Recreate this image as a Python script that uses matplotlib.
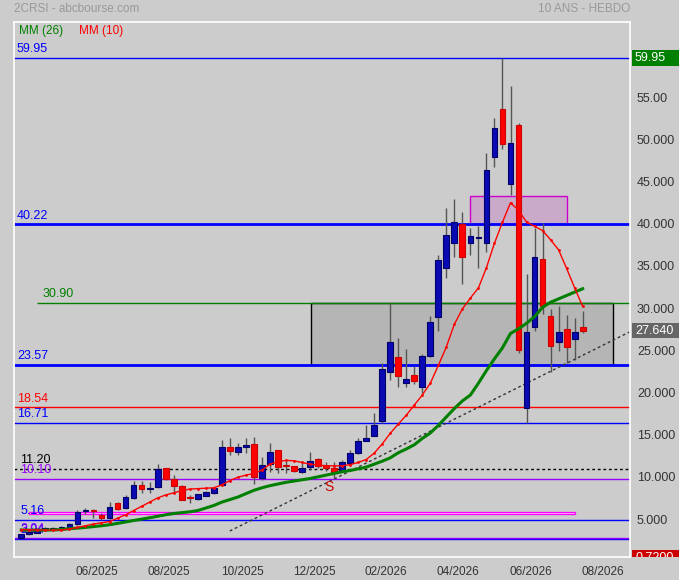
import matplotlib
matplotlib.use("Agg")
import matplotlib.pyplot as plt
from matplotlib.patches import Rectangle
from matplotlib.transforms import ScaledTranslation, Bbox, TransformedBbox
import numpy as np

plt.rcParams['font.family'] = ['Liberation Sans', 'DejaVu Sans']

# weekly candles, 2CRSI
opens = [3.08, 3.55, 3.68, 4.10, 4.15, 4.20, 4.20, 4.74, 6.20, 6.25,
         5.77, 5.38, 7.16, 6.57, 7.75, 9.33, 8.89, 9.13, 11.31, 10.00,
         9.21, 7.90, 7.67, 8.06, 8.42, 9.33, 13.80, 13.21, 13.80, 14.19,
         10.20, 11.79, 13.48, 11.70, 11.55, 10.91, 11.43, 12.38, 11.58, 11.38,
         11.11, 11.98, 13.09, 14.58, 15.18, 16.96, 22.77, 24.47, 21.39, 22.34,
         20.92, 24.66, 29.29, 35.03, 37.99, 40.24, 37.99, 38.60, 37.99, 48.19,
         53.91, 44.98, 51.98, 18.50, 28.10, 36.13, 29.33, 26.25, 27.83, 26.61,
         28.03]
closes = [3.49, 3.70, 4.11, 4.12, 4.22, 4.25, 4.67, 6.09, 6.28, 6.20,
          5.38, 6.76, 6.49, 7.87, 9.30, 8.82, 9.01, 11.19, 10.04, 9.25,
          7.55, 7.82, 8.26, 8.54, 9.01, 13.80, 13.40, 13.80, 14.07, 10.24,
          11.70, 13.21, 11.43, 11.58, 10.99, 11.38, 12.21, 11.58, 11.31, 10.91,
          12.09, 13.09, 14.51, 14.87, 16.41, 23.05, 26.25, 22.29, 21.86, 21.70,
          24.59, 28.62, 35.99, 38.97, 40.48, 36.33, 38.82, 38.70, 46.68, 51.62,
          49.73, 49.85, 25.34, 27.44, 36.33, 30.59, 25.85, 27.51, 25.73, 27.51,
          27.64]
highs = [3.55, 3.80, 4.20, 4.30, 4.40, 4.45, 4.85, 6.37, 6.60, 6.50,
         6.00, 7.35, 7.30, 8.20, 9.84, 9.81, 9.70, 11.82, 11.40, 10.52,
         9.30, 8.15, 8.30, 8.60, 9.10, 14.67, 14.87, 14.35, 14.87, 14.99,
         12.69, 14.27, 13.50, 12.30, 11.60, 12.20, 13.28, 12.50, 12.10, 12.00,
         12.30, 13.48, 14.90, 16.45, 17.83, 23.76, 30.88, 26.72, 25.46, 23.44,
         24.86, 29.41, 36.60, 42.14, 43.21, 41.66, 39.77, 40.04, 48.66, 52.81,
         59.95, 56.64, 52.22, 34.40, 39.77, 40.43, 30.20, 30.55, 29.49, 29.10,
         30.00]
lows = [3.04, 3.45, 3.60, 3.95, 4.00, 4.05, 4.10, 4.60, 5.90, 5.40,
        5.20, 5.30, 6.40, 6.50, 7.70, 8.35, 8.40, 9.00, 9.90, 8.54,
        7.50, 7.16, 7.60, 8.00, 8.30, 9.20, 12.89, 12.90, 13.09, 9.45,
        9.90, 10.90, 10.79, 10.80, 10.90, 10.80, 11.11, 11.40, 11.00, 10.20,
        10.90, 11.60, 13.00, 14.50, 15.10, 16.72, 21.78, 20.92, 20.90, 21.30,
        20.20, 24.50, 27.63, 33.84, 36.40, 33.13, 36.60, 35.03, 36.99, 47.07,
        49.13, 43.72, 25.02, 16.71, 27.63, 29.57, 22.69, 25.26, 23.76, 24.15,
        27.39]

mm10 = [4.05, 4.02, 4.00, 3.98, 3.98, 4.00, 4.10, 4.30, 4.50, 4.70,
        4.85, 5.00, 5.40, 5.80, 6.30, 6.80, 7.30, 7.80, 8.15, 8.40,
        8.65, 8.85, 8.90, 8.95, 9.00, 9.35, 9.85, 10.25, 10.50, 10.70,
        11.10, 11.80, 12.10, 12.25, 12.20, 12.00, 11.80, 11.70, 11.62, 11.60,
        11.60, 11.75, 12.00, 12.35, 13.10, 14.20, 15.45, 16.55, 17.60, 18.80,
        20.00, 21.40, 23.50, 25.70, 28.40, 30.20, 31.50, 32.70, 35.10, 38.00,
        40.50, 42.80, 41.90, 40.50, 40.00, 39.50, 38.40, 37.20, 35.00, 32.70,
        30.50]
mm26 = [4.00, 3.98, 3.97, 3.98, 4.00, 4.05, 4.15, 4.22, 4.30, 4.40,
        4.50, 4.62, 4.78, 4.95, 5.12, 5.28, 5.45, 5.62, 5.80, 5.95,
        6.05, 6.15, 6.30, 6.60, 6.90, 7.30, 7.60, 7.90, 8.30, 8.70,
        9.00, 9.25, 9.45, 9.65, 9.80, 9.95, 10.10, 10.30, 10.50, 10.70,
        10.90, 11.05, 11.25, 11.45, 11.80, 12.15, 12.55, 13.15, 13.60, 14.10,
        14.85, 15.50, 16.40, 17.40, 18.40, 19.30, 20.00, 21.40, 22.90, 24.30,
        25.60, 27.30, 27.85, 28.50, 29.30, 30.40, 31.00, 31.40, 31.80, 32.20,
        32.60]

x_ticks = [9.4, 18.4, 27.6, 36.5, 45.4, 54.4, 63.5, 72.5]
x_labels = ['06/2025', '08/2025', '10/2025', '12/2025',
            '02/2026', '04/2026', '06/2026', '08/2026']
y_ticks = [5, 10, 15, 20, 25, 30, 35, 40, 45, 50, 55]
y_labels = ['5.000', '10.000', '15.000', '20.000', '25.000', '30.000',
            '35.000', '40.000', '45.000', '50.000', '55.00']

# horizontal levels: value, label, colour, width, style, start index, label x
levels = [
    (59.95, '59.95', '#0000ff', 1.0, '-', -0.91, -0.55),
    (40.22, '40.22', '#0000ff', 2.0, '-', -0.91, -0.55),
    (30.90, '30.90', '#008000', 1.0, '-', 1.9, 2.6),
    (23.57, '23.57', '#0000ff', 2.0, '-', -0.91, -0.55),
    (18.54, '18.54', '#ff0000', 1.0, '-', -0.91, -0.55),
    (16.71, '16.71', '#0000ff', 1.0, '-', -0.91, -0.55),
    (11.20, '11.20', '#000000', 1.0, (0, (2, 2)), -0.91, -0.15),
    (10.10, '10.10', '#9900ff', 1.0, '-', -0.91, -0.15),
    (5.16, '5.16', '#0000ff', 1.0, '-', -0.91, -0.15),
    (2.94, '2.94', '#0000ff', 1.0, '-', -0.91, -0.15),
    (3.04, '3.04', '#9900ff', 1.0, '-', -0.91, -0.15),
]

zone_gray = (36.1, 73.8, 23.57, 30.90)
zone_pink = (56.0, 68.1, 40.22, 43.60)
band_pink = (1.0, 69.1, 5.86, 6.09)
trend_x = [26.0, 75.9]
trend_y = [3.88, 27.5]
last_close = 27.64
top_value = 59.95
low_value = 0.72

bg = '#cccccc'
fig = plt.figure(figsize=(6.79, 5.80), dpi=100, facecolor=bg)
ax = fig.add_axes([14 / 679, 1 - 556.7 / 580, 616 / 679, 535 / 580])
ax.set_facecolor(bg)
for s in ax.spines.values():
    s.set_color('white')
    s.set_linewidth(1.2)
ax.set_xlim(-0.91, 75.9)
ax.set_ylim(0.83, 64.26)

# zones
ax.add_patch(Rectangle((zone_gray[0], zone_gray[2]), zone_gray[1] - zone_gray[0],
                       zone_gray[3] - zone_gray[2], facecolor='#b5b5b5',
                       edgecolor='black', lw=1, zorder=1))
ax.add_patch(Rectangle((zone_pink[0], zone_pink[2]), zone_pink[1] - zone_pink[0],
                       zone_pink[3] - zone_pink[2], facecolor='#c9aac9',
                       edgecolor='#cc00cc', lw=1, zorder=1))
ax.add_patch(Rectangle((band_pink[0], band_pink[2]), band_pink[1] - band_pink[0],
                       band_pink[3] - band_pink[2], facecolor='#ffd0ff',
                       edgecolor='#ff00ff', lw=0.9, zorder=2))

for val, txt, col, lw, ls, x0, xl in levels:
    ax.hlines(val, x0, 75.9, colors=col, lw=lw, linestyles=ls, zorder=2)
    ax.annotate(txt, (xl, val), xytext=(0, 2), textcoords='offset points',
                ha='left', va='bottom', color=col, fontsize=9, zorder=3)

ax.plot(trend_x, trend_y, color='#333333', lw=1, ls=(0, (2, 2)), zorder=2)

# candles
idx = np.arange(len(opens))
o = np.array(opens)
c = np.array(closes)
up = c >= o
ax.vlines(idx, lows, highs, color='#555555', lw=1, zorder=3)
body_lo = np.minimum(o, c)
body_h = np.maximum(np.abs(c - o), 0.12)
ax.bar(idx[up], body_h[up], bottom=body_lo[up], width=0.72,
       color='#0a0ab4', edgecolor='#000066', lw=0.8, zorder=4)
ax.bar(idx[~up], body_h[~up], bottom=body_lo[~up], width=0.72,
       color='#ff0000', edgecolor='#cc0000', lw=0.8, zorder=4)

# moving averages
ax.plot(idx, mm26, color='#008000', lw=2.2, zorder=5)
ax.plot(idx, mm10, color='#ff0000', lw=1, marker='.', ms=2, zorder=5)

ax.text(38.4, 9.1, 'S', color='#cc0000', fontsize=10, ha='center', va='center', zorder=6)

# axes ticks
ax.set_xticks(x_ticks)
ax.set_xticklabels(x_labels)
ax.yaxis.tick_right()
ax.set_yticks(y_ticks)
ax.set_yticklabels(y_labels)
ax.tick_params(axis='both', length=0, colors='#333333')
ax.tick_params(axis='x', pad=7, labelsize=8.5)
ax.tick_params(axis='y', pad=5, labelsize=9)
shift = ScaledTranslation(0, 2.5 / 100, fig.dpi_scale_trans)
for lab in ax.get_yticklabels():
    lab.set_transform(lab.get_transform() + shift)

# right side value boxes
ytr = ax.get_yaxis_transform()
box_w = (679 - 632) / 616
clip = TransformedBbox(Bbox([[1.0, 0.0], [1.2, 1.2]]), ax.transAxes)
for val, txt, col in [(top_value, '59.95', '#008000'),
                      (last_close, '27.640', '#666666'),
                      (low_value, '0.7200', '#cc0000')]:
    r = Rectangle((1 + 2 / 616, val - 0.9), box_w, 1.8, transform=ytr,
                  facecolor=col, edgecolor='none', zorder=7)
    ax.add_patch(r)
    r.set_clip_path(None)
    r.set_clip_box(clip)
    r.set_clip_on(True)
    t = ax.text(1 + 5 / 616, val, txt, transform=ytr, color='white',
                fontsize=9, ha='left', va='center', zorder=8)
    t.set_clip_path(None)
    t.set_clip_box(clip)
    t.set_clip_on(True)

fig.text(14 / 679, 1 - 9 / 580, '2CRSI - abcbourse.com', color='#999999',
         fontsize=8.5, va='center', ha='left')
fig.text(630 / 679, 1 - 9 / 580, '10 ANS - HEBDO', color='#999999',
         fontsize=8.5, va='center', ha='right')
fig.text(19 / 679, 1 - 31 / 580, 'MM (26)', color='#008000', fontsize=8.5, va='center')
fig.text(79 / 679, 1 - 31 / 580, 'MM (10)', color='#ff0000', fontsize=8.5, va='center')

fig.savefig('out.png', dpi=100, facecolor=bg)
